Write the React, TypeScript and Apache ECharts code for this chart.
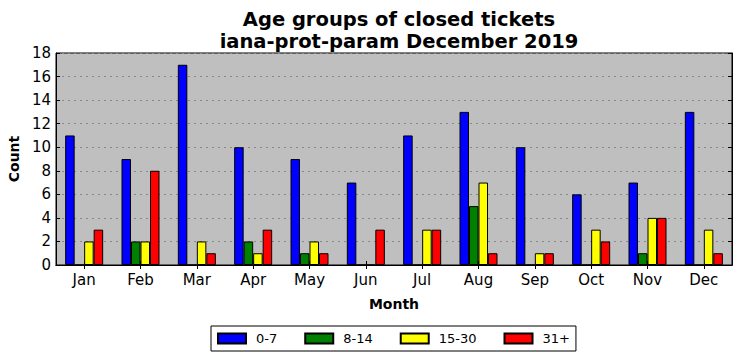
import React, { useEffect, useRef } from "react";
import * as echarts from "echarts";

const months = ["Jan", "Feb", "Mar", "Apr", "May", "Jun", "Jul", "Aug", "Sep", "Oct", "Nov", "Dec"];
const age0to7 = [11, 9, 17, 10, 9, 7, 11, 13, 10, 6, 7, 13];
const age8to14 = [0, 2, 0, 2, 1, 0, 0, 5, 0, 0, 1, 0];
const age15to30 = [2, 2, 2, 1, 2, 0, 3, 7, 1, 3, 4, 3];
const age31plus = [3, 8, 1, 3, 1, 3, 3, 1, 1, 2, 4, 1];
const seriesNames = ["0-7", "8-14", "15-30", "31+"];
const seriesColors = ["#0000ff", "#008000", "#ffff00", "#ff0000"];

const FONT = "DejaVu Sans";

export default function App() {
  const ref = useRef<HTMLDivElement>(null);
  useEffect(() => {
    if (!ref.current) return;
    const chart = echarts.init(ref.current, null, { renderer: "svg" });
    const datasets = [age0to7, age8to14, age15to30, age31plus];
    const axisLine = { show: true, lineStyle: { color: "#000", width: 1 } };
    chart.setOption({
      animation: false,
      backgroundColor: "#fff",
      title: {
        text: "Age groups of closed tickets\niana-prot-param December 2019",
        left: 394,
        top: 4,
        textAlign: "center",
        textStyle: { fontFamily: FONT, fontSize: 19.5, fontWeight: "bold", color: "#000", lineHeight: 21.5 },
      },
      legend: {
        left: 211,
        top: 326,
        padding: [6, 6, 6, 6],
        borderColor: "#000",
        borderWidth: 1,
        itemWidth: 28,
        itemHeight: 10,
        itemGap: 27,
        icon: "rect",
        data: seriesNames,
        textStyle: { fontFamily: FONT, fontSize: 13, color: "#000", padding: [0, 0, 0, 5] },
      },
      grid: {
        left: 56,
        right: 9,
        top: 53,
        bottom: 96,
        outerBoundsMode: "none",
        containLabel: false,
        show: true,
        backgroundColor: "#bfbfbf",
        borderColor: "#000",
        borderWidth: 1,
      },
      xAxis: [
        {
          type: "category",
          data: months,
          name: "Month",
          nameLocation: "middle",
          nameGap: 32,
          nameTextStyle: { fontFamily: FONT, fontSize: 14, fontWeight: "bold", color: "#000" },
          axisLine,
          axisTick: { show: true, inside: true, alignWithLabel: true, length: 4, lineStyle: { color: "#000" } },
          axisLabel: { fontFamily: FONT, fontSize: 15, color: "#000", margin: 7 },
        },
        {
          type: "category",
          data: months,
          position: "top",
          axisLine,
          axisTick: { show: true, inside: true, alignWithLabel: true, length: 4, lineStyle: { color: "#000" } },
          axisLabel: { show: false },
        },
      ],
      yAxis: [
        {
          type: "value",
          min: 0,
          max: 18,
          interval: 2,
          name: "Count",
          nameLocation: "middle",
          nameGap: 33,
          nameTextStyle: { fontFamily: FONT, fontSize: 14, fontWeight: "bold", color: "#000" },
          axisLine,
          axisTick: { show: true, inside: true, length: 4, lineStyle: { color: "#000" } },
          axisLabel: { fontFamily: FONT, fontSize: 15, color: "#000", margin: 5 },
          splitLine: { show: true, lineStyle: { color: "#888", type: [2, 4], width: 1 } },
        },
        {
          type: "value",
          min: 0,
          max: 18,
          interval: 2,
          position: "right",
          axisLine,
          axisTick: { show: true, inside: true, length: 4, lineStyle: { color: "#000" } },
          axisLabel: { show: false },
          splitLine: { show: false },
        },
      ],
      series: datasets.map((d, i) => ({
        type: "bar",
        name: seriesNames[i],
        data: d,
        xAxisIndex: 0,
        yAxisIndex: 0,
        barWidth: 9.5,
        barGap: "0%",
        itemStyle: { color: seriesColors[i], borderColor: "#000", borderWidth: 1 },
      })),
    });
    return () => chart.dispose();
  }, []);
  return <div ref={ref} style={{ position: "absolute", left: 0, top: 0, width: 741, height: 361 }} />;
}
